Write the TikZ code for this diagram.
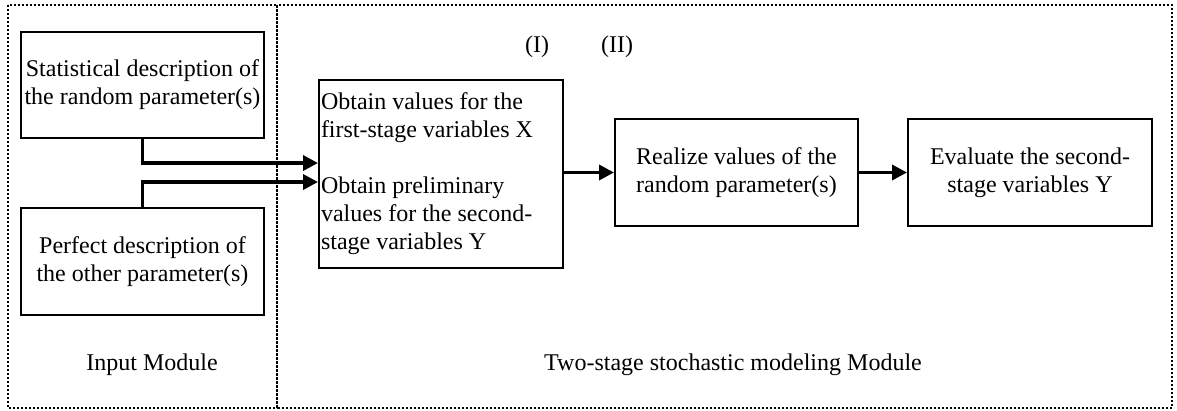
\documentclass[tikz,border=0pt]{standalone}
\usepackage{fontspec}
\setmainfont{Liberation Serif}
\usetikzlibrary{arrows.meta}
\begin{document}
\begin{tikzpicture}[x=1pt,y=-1pt,
  txt/.style={font=\fontsize{24}{28}\selectfont},
  box/.style={draw,line width=2pt,inner sep=0pt,align=center,txt},
  arr/.style={line width=3.5pt,-{Triangle[length=15pt,width=15pt]}},
  module/.style={draw,line width=2pt,dotted}]
\useasboundingbox (0,0) rectangle (1177,410);
\draw[module] (8,5) rectangle (277,408);
\draw[module] (277,5) rectangle (1172,408);
\node[box,minimum width=243pt,minimum height=106pt] (A) at (142.5,85) {Statistical description of\\the random parameter(s)};
\node[box,minimum width=243pt,minimum height=107pt] (B) at (142.5,261.5) {Perfect description of\\the other parameter(s)};
\node[box,minimum height=188pt,text width=240pt,inner sep=2pt,align=flush left] (C) at (441,174) {Obtain values for the\\first-stage variables X\\[28pt]Obtain preliminary\\values for the second-\\stage variables Y};
\node[box,minimum width=243pt,minimum height=107pt] (D) at (736.5,172.5) {Realize values of the\\random parameter(s)};
\node[box,minimum width=244pt,minimum height=107pt] (E) at (1030,172.5) {Evaluate the second-\\stage variables Y};
\node[txt] (lI) at (537,47) {(I)};
\node[txt] (lII) at (617,47) {(II)};
\node[txt] (inmod) at (152,365) {Input Module};
\node[txt] (twomod) at (733,365) {Two-stage stochastic modeling Module};
\draw[arr] (A.south) |- ([yshift=11pt]C.west);
\draw[arr] (B.north) |- ([yshift=-8pt]C.west);
\draw[arr] (C.east |- D.west) -- (D.west);
\draw[arr] (D.east) -- (E.west);
\end{tikzpicture}
\end{document}
